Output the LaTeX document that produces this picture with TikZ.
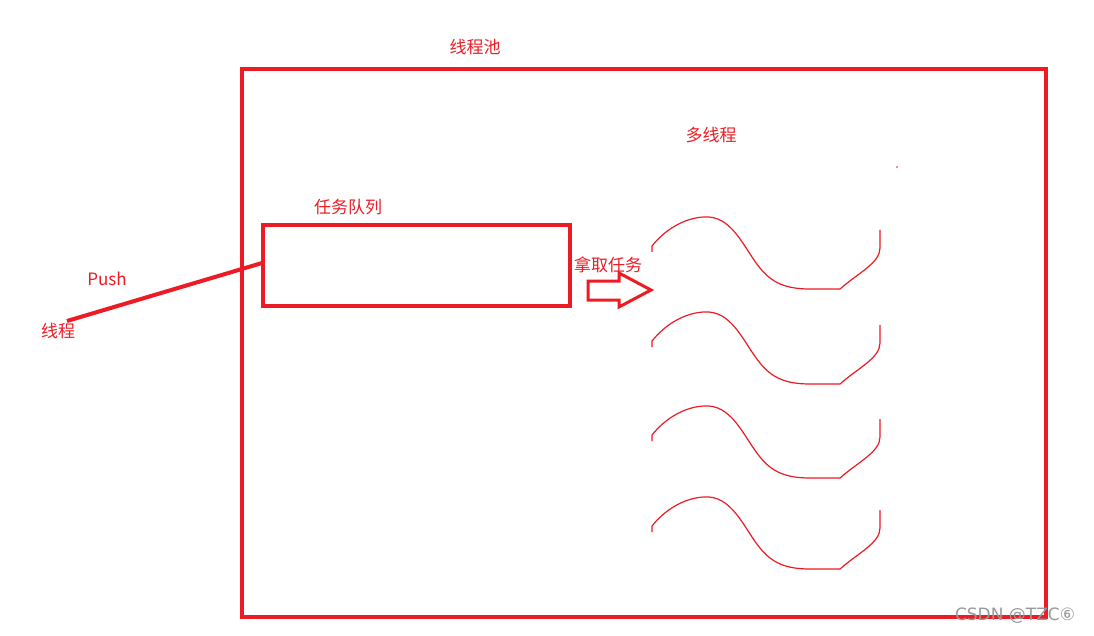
\documentclass[tikz,border=0pt]{standalone}
\usepackage{fontspec}
\setmainfont{Noto Sans CJK SC}
\newfontfamily\wmfont{DejaVu Sans}
\definecolor{pred}{RGB}{237,28,36}
\begin{document}
\begin{tikzpicture}[x=1pt,y=-1pt,
  lbl/.style={text=pred,font=\fontsize{17}{20}\selectfont,inner sep=0pt},
  thick box/.style={draw=pred,line width=4pt,outer sep=0pt,inner sep=0pt},
  wave/.style={draw=pred,line width=1.2pt}]
\useasboundingbox[fill=white] (0,0) rectangle (1094,636);
% pool
\node[thick box,minimum width=804pt,minimum height=548pt,anchor=north west] (pool) at (242,69) {};
\node[lbl] (pooltitle) at (475,47) {线程池};
% queue
\node[thick box,minimum width=307pt,minimum height=81pt,anchor=north west] (queue) at (263,225) {};
\node[lbl] (queuetitle) at (348,207) {任务队列};
% thread
\node[lbl] (push) at (107,279) {Push};
\node[lbl] (thread) at (58,331) {线程};
\coordinate (tstart) at (67,321);
\coordinate (tend) at (262,263);
\draw[pred,line width=4pt] (tstart) -- (tend);
% take arrow
\node[lbl] (take) at (608,265) {拿取任务};
\draw[pred,line width=3pt,line join=miter]
  (588,281) -- (619,281) -- (619,273) -- (651,290) -- (619,307) -- (619,300) -- (588,300) -- cycle;
% threads
\node[lbl] (multi) at (711,135) {多线程};
\foreach \dy in {0,95,189,280}{
  \draw[wave] (652,252+\dy) -- (652,246+\dy)
    .. controls (668,226+\dy) and (690,216+\dy) .. (709,217+\dy)
    .. controls (734,219+\dy) and (745,250+\dy) .. (760,268+\dy)
    .. controls (772,283+\dy) and (786,289+\dy) .. (810,289+\dy)
    -- (840,289+\dy)
    .. controls (858,273+\dy) and (880,263+\dy) .. (880,248+\dy)
    -- (880,230+\dy);
}
\fill[pred] (897,167) circle (0.8pt);
% watermark
\node[text=gray!80,font=\wmfont\fontsize{17}{19}\selectfont,inner sep=0pt] (wm) at (1015,616) {CSDN @TZC⑥};
\end{tikzpicture}
\end{document}
